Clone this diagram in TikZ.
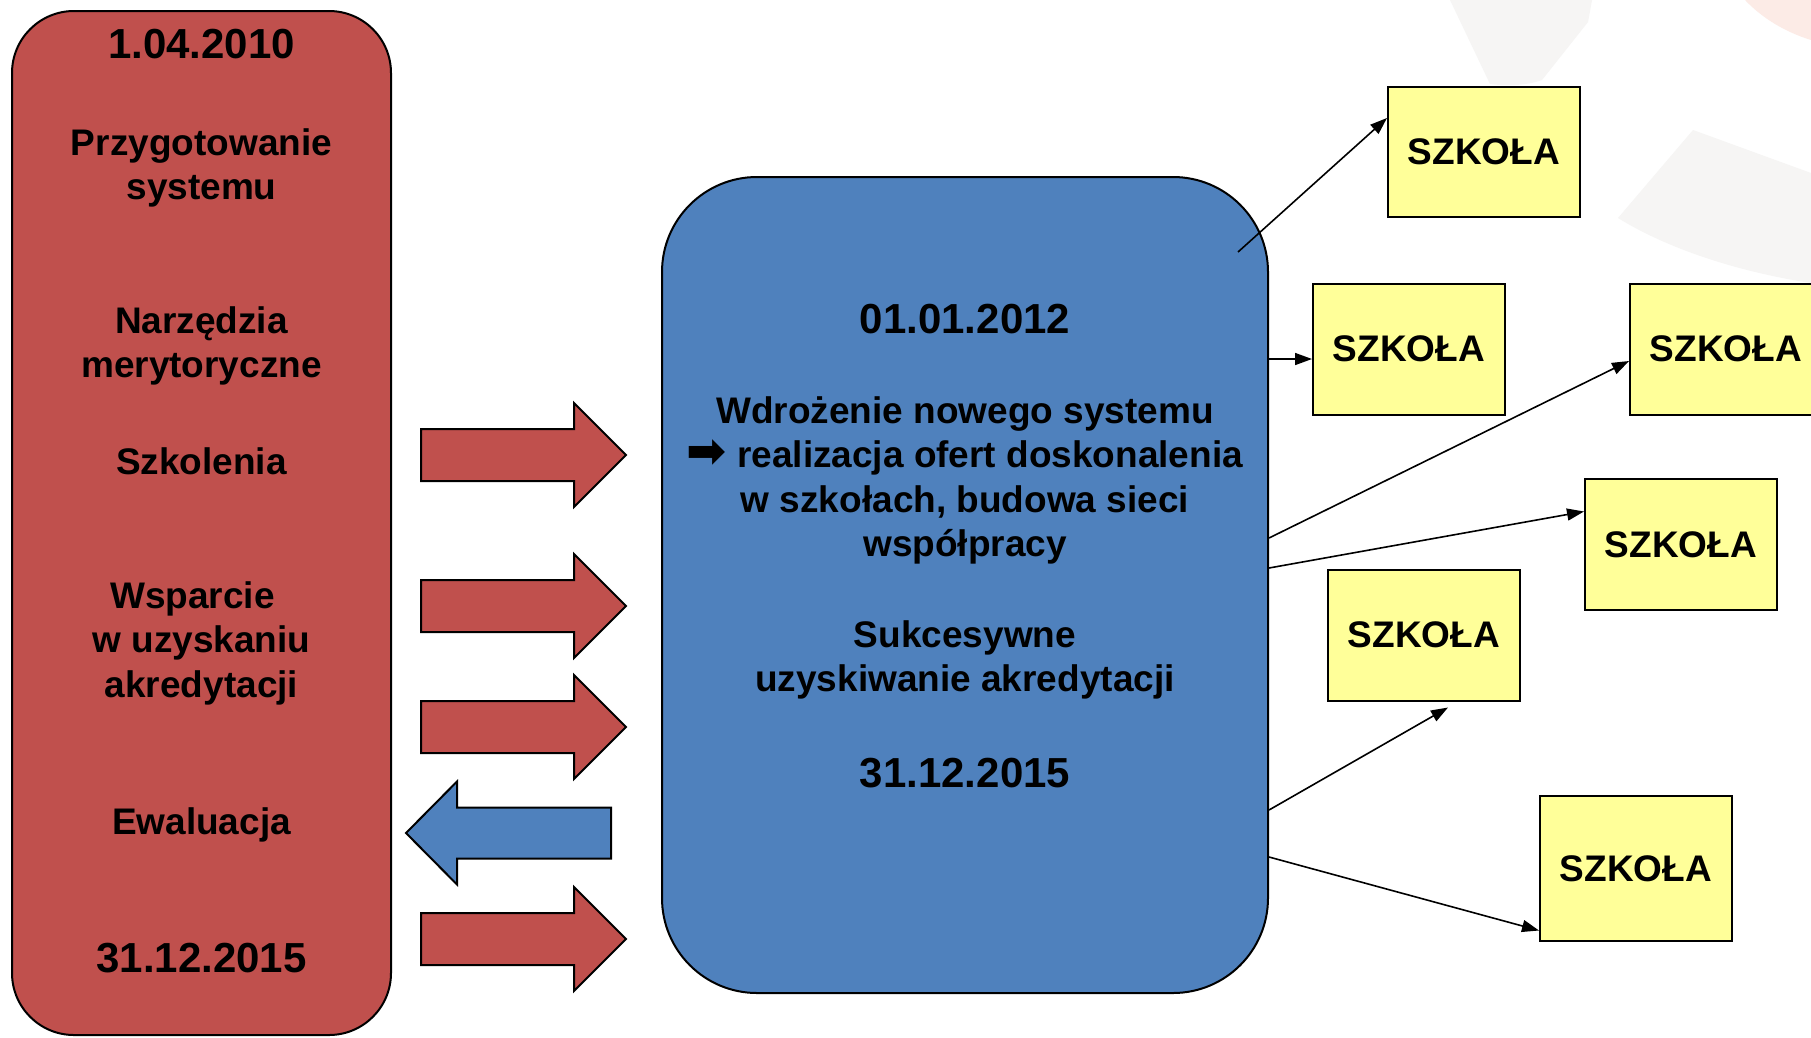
\documentclass[tikz,border=0pt]{standalone}
\usepackage{fontspec}
\setmainfont{Liberation Sans}
\newfontfamily\dingfont{DejaVu Sans}
\usetikzlibrary{arrows.meta,calc}
\definecolor{boxred}{HTML}{C0504D}
\definecolor{boxblue}{HTML}{4F81BD}
\definecolor{schoolyellow}{HTML}{FFFF99}
\definecolor{wmgray}{HTML}{F6F5F4}
\definecolor{wmpink}{HTML}{FCEBE6}
\tikzset{
  blockarrow/.style={draw=black, line width=2pt, line join=miter},
  rightblock/.pic={\draw[blockarrow, fill=boxred] (0,-26) -- (153,-26) -- (153,-52) -- (205,0) -- (153,52) -- (153,26) -- (0,26) -- cycle;},
  leftblock/.pic={\draw[blockarrow, fill=boxblue] (0,0) -- (51,-51.5) -- (51,-25.5) -- (205,-25.5) -- (205,25.5) -- (51,25.5) -- (51,51.5) -- cycle;}
}
\begin{document}
\begin{tikzpicture}[x=1pt,y=-1pt,
  txt/.style={font=\bfseries\fontsize{37}{44.5}\selectfont, align=center, inner sep=0pt, anchor=base},
  datetxt/.style={font=\bfseries\fontsize{42}{48}\selectfont, inner sep=0pt, anchor=base},
  panel/.style={draw=black, line width=2pt},
  school/.style={draw=black, line width=2pt, fill=schoolyellow, minimum width=192pt, minimum height=131pt, inner sep=0pt, font=\bfseries\fontsize{37}{44.5}\selectfont},
  link/.style={line width=1.6pt, -{Triangle[length=17pt,width=12pt]}}
]
\clip (0,0) rectangle (1811,1037);
\fill[white] (0,0) rectangle (1811,1037);
% faint watermark
\fill[wmgray] (1450,0) -- (1592,0) -- (1588,22) -- (1542,80) .. controls (1525,86) and (1505,86) .. (1490,84) -- cycle;
\fill[wmgray] (1693,130) -- (1811,173) -- (1811,283) .. controls (1740,272) and (1670,250) .. (1618,218) -- cycle;
\fill[wmpink] (1745,0) -- (1811,0) -- (1811,40) .. controls (1785,32) and (1762,18) .. (1745,0) -- cycle;

% panels
\node[panel, fill=boxred, rounded corners=62pt, minimum width=379pt, minimum height=1024pt] (prep) at (201.5,523) {};
\node[panel, fill=boxblue, rounded corners=95pt, minimum width=606pt, minimum height=816pt] (impl) at (965,585) {};

% left texts (base anchor = baseline of the last line)
\node[datetxt] (d1) at (201.5,58) {1.04.2010};
\node[txt] (l1) at (201.5,199.5) {Przygotowanie\\systemu};
\node[txt] (l2) at (201.5,377.5) {Narzędzia\\merytoryczne};
\node[txt] (l3) at (201.5,474) {Szkolenia};
\node[txt] (l4) at (201.5,697) {Wsparcie\hspace*{18pt}\\w uzyskaniu\hspace*{10pt}\\akredytacji};
\node[txt] (l5) at (201.5,834) {Ewaluacja};
\node[datetxt] (d2) at (201.5,972) {31.12.2015};

% centre texts
\node[datetxt] (d3) at (965,333) {01.01.2012};
\node[txt] (m1) at (965,556.5) {Wdrożenie nowego systemu\\{\dingfont\fontsize{48}{44.5}\selectfont ➡}\hspace{10pt}realizacja ofert doskonalenia\\w szkołach, budowa sieci\\współpracy};
\node[txt] (m2) at (965,691.5) {Sukcesywne\\uzyskiwanie akredytacji};
\node[datetxt] (d4) at (965,787) {31.12.2015};

% block arrows
\pic at (421,455) {rightblock};
\pic at (421,606) {rightblock};
\pic at (421,727) {rightblock};
\pic at (406,833) {leftblock};
\pic at (421,939) {rightblock};

% schools
\node[school, minimum height=130pt] (s1) at (1484,152) {SZKOŁA};
\node[school] (s2) at (1409,349) {SZKOŁA};
\node[school] (s3) at (1726,349) {SZKOŁA};
\node[school] (s4) at (1681,544.5) {SZKOŁA};
\node[school] (s5) at (1424,635) {SZKOŁA};
\node[school, minimum height=145pt] (s6) at (1636,868.5) {SZKOŁA};

% connectors
\coordinate (a0) at ($(impl.north east)+(-31,76)$);
\coordinate (t1) at ($(s1.west)+(0,-34)$);
\coordinate (t2) at ($(s2.west)+(0,10)$);
\coordinate (t3) at ($(s3.west)+(0,12)$);
\coordinate (t4) at ($(s4.west)+(0,-33)$);
\coordinate (t5) at ($(s5.south)+(24,6)$);
\coordinate (t6) at ($(s6.west)+(0,62)$);
\draw[link] (a0) -- (t1);
\draw[link] (impl.east |- t2) -- (t2);
\draw[link] ($(impl.east)+(0,-47)$) -- (t3);
\draw[link] ($(impl.east)+(0,-17)$) -- (t4);
\draw[link] ($(impl.east)+(0,225)$) -- (t5);
\draw[link] ($(impl.east)+(0,272)$) -- (t6);
\end{tikzpicture}
\end{document}
